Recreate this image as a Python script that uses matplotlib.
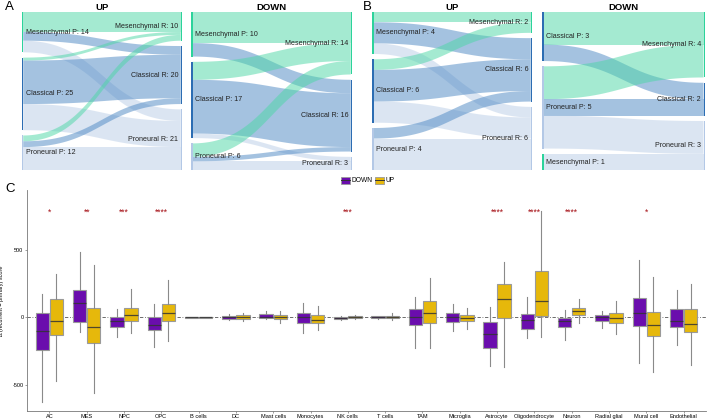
import numpy as np
import matplotlib
matplotlib.use('Agg')
import matplotlib.pyplot as plt
from matplotlib.patches import Rectangle
from matplotlib.lines import Line2D

plt.rcParams['font.family'] = ['Liberation Sans', 'DejaVu Sans']

W, H = 708, 419
fig = plt.figure(figsize=(W / 100, H / 100), dpi=100)

# ------------------------------------------------------------------ data
right_order = ['Mesenchymal', 'Classical', 'Proneural']

a_up_left = ['Mesenchymal', 'Classical', 'Proneural']
a_up_flows = [[7, 3, 4], [1, 15, 9], [2, 2, 8]]
a_down_left = ['Mesenchymal', 'Classical', 'Proneural']
a_down_flows = [[7, 3, 0], [4, 12, 1], [3, 1, 2]]
b_up_left = ['Mesenchymal', 'Classical', 'Proneural']
b_up_flows = [[1, 2, 1], [1, 3, 2], [0, 1, 3]]
b_down_left = ['Classical', 'Proneural', 'Mesenchymal']
b_down_flows = [[2, 1, 0], [2, 1, 2], [0, 0, 1]]

cells = ['AC', 'MES', 'NPC', 'OPC', 'B cells', 'DC', 'Mast cells', 'Monocytes',
         'NK cells', 'T cells', 'TAM', 'Microglia', 'Astrocyte', 'Oligodendrocyte',
         'Neuron', 'Radial glial', 'Mural cell', 'Endothelial']
down_whislo = [-626, -106, -148, -223, -4, -20, -15, -114, -20, -15, -225, -101, -361, -151, -168, -77, -337, -203]
down_q1 = [-243, -32, -69, -94, -2, -10, -7, -40, -15, -5, -59, -32, -228, -87, -72, -27, -64, -72]
down_med = [-99, 104, -27, -54, 0, 5, 5, 0, -5, 0, 5, 0, -124, -20, -25, 0, 30, -30]
down_q3 = [35, 203, 5, 0, 2, 12, 22, 35, 5, 7, 62, 30, -32, 25, -2, 15, 141, 62]
down_whishi = [173, 483, 62, 101, 4, 25, 50, 104, 10, 12, 153, 99, 79, 149, 52, 45, 426, 203]

up_whislo = [-473, -557, -119, -173, -4, -25, -40, -94, -10, -20, -225, -89, -371, -144, -40, -124, -406, -351]
up_q1 = [-134, -193, -25, -25, -2, -10, -12, -40, -5, -7, -40, -30, -2, 12, 17, -45, -141, -106]
up_med = [-25, -74, 20, 30, 0, 5, 0, -20, 0, 0, 30, -7, 136, 124, 45, -2, -54, -47]
up_q3 = [136, 67, 72, 97, 2, 15, 17, 15, 10, 7, 124, 20, 248, 344, 69, 30, 40, 62]
up_whishi = [322, 384, 208, 277, 4, 30, 47, 84, 15, 30, 292, 67, 411, 785, 136, 121, 297, 245]

stars = ['*', '**', '***', '****', '', '', '', '', '***', '', '', '', '****', '****', '****', '', '*', '']

# ------------------------------------------------------------------ styles
node_col = {'Mesenchymal': '#2CD39B', 'Classical': '#2C6DB3', 'Proneural': '#B3C8E6'}
flow_col = {'Mesenchymal': '#4BD7A5', 'Classical': '#4B87C3', 'Proneural': '#B9CDE7'}
PURPLE = '#6A0DAD'
GOLD = '#E6B80B'


def px_axes(x0, y0, x1, y1):
    ax = fig.add_axes([x0 / W, 1 - y1 / H, (x1 - x0) / W, (y1 - y0) / H])
    ax.set_xlim(0, x1 - x0)
    ax.set_ylim(y1 - y0, 0)
    ax.axis('off')
    return ax


def sankey(box, left_order, flows, title):
    x0, y0, x1, y1 = box
    ax = px_axes(x0, y0, x1, y1)
    width, height = x1 - x0, y1 - y0
    f = np.array(flows, dtype=float)
    lt, rt = f.sum(1), f.sum(0)
    gap = 5.3
    nodew = 1.5
    s = (height - gap * (len(lt) - 1)) / lt.sum()
    ly = np.concatenate([[0], np.cumsum(lt * s + gap)])[:-1]
    ry = np.concatenate([[0], np.cumsum(rt * s + gap)])[:-1]
    u = np.linspace(0, 1, 80)
    xa, xb = nodew, width - nodew
    xm = (xa + xb) / 2
    bx = (1 - u) ** 3 * xa + 3 * (1 - u) ** 2 * u * xm + 3 * (1 - u) * u ** 2 * xm + u ** 3 * xb

    def curve(ya, yb):
        return ((1 - u) ** 3 + 3 * (1 - u) ** 2 * u) * ya + (3 * (1 - u) * u ** 2 + u ** 3) * yb

    for i in range(f.shape[0]):
        for j in range(f.shape[1]):
            w = f[i, j] * s
            if w <= 0:
                continue
            ys = ly[i] + f[i, :j].sum() * s
            yt = ry[j] + f[:i, j].sum() * s
            top = curve(ys, yt)
            bot = curve(ys + w, yt + w)
            ax.fill(np.r_[bx, bx[::-1]], np.r_[top, bot[::-1]],
                    color=flow_col[right_order[j]], alpha=0.5, lw=0)
    for i, name in enumerate(left_order):
        ax.add_patch(Rectangle((0, ly[i]), nodew, lt[i] * s, color=node_col[name], lw=0))
        ax.text(nodew + 2.5, ly[i] + lt[i] * s / 2, f'{name} P: {int(lt[i])}',
                ha='left', va='center', fontsize=5.1, color='#222222')
    for j, name in enumerate(right_order):
        ax.add_patch(Rectangle((width - nodew, ry[j]), nodew, rt[j] * s, color=node_col[name], lw=0))
        ax.text(width - nodew - 2.5, ry[j] + rt[j] * s / 2, f'{name} R: {int(rt[j])}',
                ha='right', va='center', fontsize=5.1, color='#222222')
    ax.text(width / 2, -4.2, title, ha='center', va='center', fontsize=6.8,
            fontweight='bold', clip_on=False)


sankey((21.7, 11.7, 182.3, 170.3), a_up_left, a_up_flows, 'UP')
sankey((191.0, 11.7, 352.3, 170.3), a_down_left, a_down_flows, 'DOWN')
sankey((372.3, 11.7, 532.3, 170.3), b_up_left, b_up_flows, 'UP')
sankey((542.3, 11.7, 705.0, 170.3), b_down_left, b_down_flows, 'DOWN')

for lab, px, py in [('A', 5, 7.5), ('B', 363, 7.5), ('C', 5, 189)]:
    fig.text(px / W, 1 - py / H, lab, fontsize=9.5, ha='left', va='center')

# ------------------------------------------------------------------ box plot panel
ax = fig.add_axes([27 / W, 1 - 411 / H, (706 - 27) / W, (411 - 190) / H])
pos = np.arange(len(cells))


def stats(lo, q1, med, q3, hi):
    return [dict(whislo=a, q1=b, med=c, q3=d, whishi=e, fliers=[])
            for a, b, c, d, e in zip(lo, q1, med, q3, hi)]


for st, off, col in [(stats(down_whislo, down_q1, down_med, down_q3, down_whishi), -0.19, PURPLE),
                     (stats(up_whislo, up_q1, up_med, up_q3, up_whishi), 0.19, GOLD)]:
    ax.bxp(st, positions=pos + off, widths=0.36, patch_artist=True, showfliers=False,
           showcaps=False,
           boxprops=dict(facecolor=col, edgecolor='#9a9a9a', linewidth=0.8),
           whiskerprops=dict(color='#8a8a8a', linewidth=0.8),
           medianprops=dict(color='#333333', linewidth=0.9, alpha=0.85),
           manage_ticks=False, zorder=3)

ax.axhline(0, color='#555555', lw=0.6, ls=(0, (4, 2, 1, 2)), zorder=2)
for p, s_ in zip(pos, stars):
    if s_:
        ax.text(p, 775, s_, ha='center', va='center', color='#A50F15', fontsize=6.2)

ax.set_xlim(-0.6, len(cells) - 0.4)
ax.set_ylim(-694, 943)
ax.set_xticks(pos)
ax.set_xticklabels(cells, fontsize=4.1)
ax.set_yticks([-500, 0, 500])
ax.set_yticklabels(['-500', '0', '500'], fontsize=4)
ax.tick_params(axis='both', length=1.5, width=0.5, color='#777777', pad=1)
ax.set_ylabel('Δ (recurrent − primary) score', fontsize=4, labelpad=6)
for sp in ['top', 'right']:
    ax.spines[sp].set_visible(False)
for sp in ['left', 'bottom']:
    ax.spines[sp].set_color('#777777')
    ax.spines[sp].set_linewidth(0.6)

# ------------------------------------------------------------------ legend
for x0, col, lab in [(341, PURPLE, 'DOWN'), (375, GOLD, 'UP')]:
    fig.add_artist(Rectangle((x0 / W, 1 - 183.5 / H), 8.5 / W, 6.5 / H, facecolor=col,
                             edgecolor='#9a9a9a', lw=0.6, transform=fig.transFigure))
    fig.add_artist(Line2D([x0 / W, (x0 + 8.5) / W], [1 - 180.3 / H] * 2, color='#333333',
                          lw=0.7, transform=fig.transFigure))
    fig.text((x0 + 10.5) / W, 1 - 180.3 / H, lab, fontsize=4.8, ha='left', va='center')

fig.savefig('out.png', dpi=100)
